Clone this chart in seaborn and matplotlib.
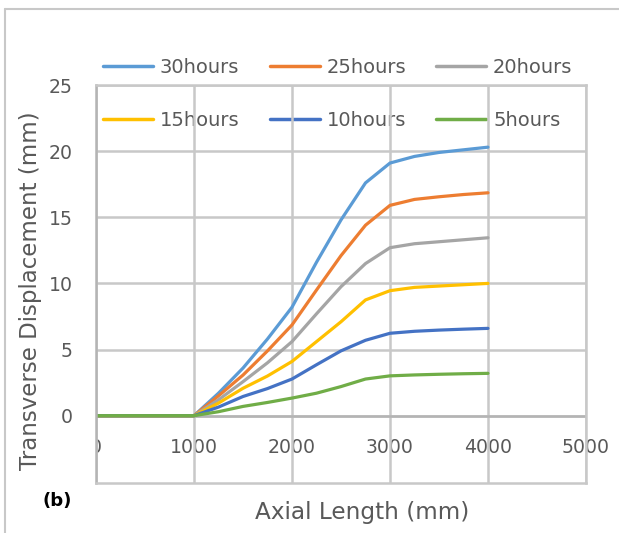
import numpy as np
import pandas as pd
import matplotlib
matplotlib.use("Agg")
import matplotlib.pyplot as plt
import seaborn as sns
from matplotlib.lines import Line2D
from matplotlib.transforms import Bbox, TransformedBbox

# ---------------- data ----------------
axial_length = [0, 1000, 1250, 1500, 1750, 2000, 2250, 2500, 2750, 3000, 3250, 3500, 3750, 4000]
disp_30h = [0, 0, 1.7, 3.6, 5.8, 8.2, 11.6, 14.8, 17.6, 19.1, 19.6, 19.9, 20.1, 20.3]
disp_25h = [0, 0, 1.5, 3.07, 4.9, 6.86, 9.5, 12.1, 14.4, 15.9, 16.35, 16.55, 16.72, 16.85]
disp_20h = [0, 0, 1.2, 2.57, 4.0, 5.6, 7.7, 9.75, 11.5, 12.7, 13.0, 13.15, 13.3, 13.45]
disp_15h = [0, 0, 0.95, 2.07, 3.0, 4.1, 5.6, 7.1, 8.75, 9.45, 9.7, 9.8, 9.9, 10.0]
disp_10h = [0, 0, 0.65, 1.45, 2.05, 2.77, 3.85, 4.9, 5.7, 6.23, 6.38, 6.47, 6.54, 6.6]
disp_5h = [0, 0, 0.3, 0.7, 1.0, 1.33, 1.7, 2.2, 2.77, 3.01, 3.08, 3.13, 3.17, 3.2]

series_labels = ["30hours", "25hours", "20hours", "15hours", "10hours", "5hours"]
series_values = [disp_30h, disp_25h, disp_20h, disp_15h, disp_10h, disp_5h]
series_colors = ["#5B9BD5", "#ED7D31", "#A5A5A5", "#FFC000", "#4472C4", "#70AD47"]

x_tick_values = [0, 1000, 2000, 3000, 4000, 5000]
x_tick_labels = ["0", "1000", "2000", "3000", "4000", "5000"]
y_tick_values = [0, 5, 10, 15, 20, 25]
y_tick_labels = ["0", "5", "10", "15", "20", "25"]

# ---------------- figure ----------------
sns.set_theme(style="white")
plt.rcParams["font.family"] = ["DejaVu Sans"]

W, H = 619, 533
fig = plt.figure(figsize=(W / 100, H / 100), dpi=100)
fig.patch.set_facecolor("white")

AX_L, AX_R, AX_T, AX_B = 96, 586, 85, 483
ax = fig.add_axes([AX_L / W, 1 - AX_B / H, (AX_R - AX_L) / W, (AX_B - AX_T) / H])
ax.patch.set_visible(False)

rows = []
for lab, vals in zip(series_labels, series_values):
    for xv, yv in zip(axial_length, vals):
        rows.append({"x": xv, "y": yv, "series": lab})
df = pd.DataFrame(rows)

sns.lineplot(data=df, x="x", y="y", hue="series", hue_order=series_labels,
             palette=series_colors, linewidth=2.3, legend=False, ax=ax,
             estimator=None, sort=False)

ax.set_xlim(0, 5000)
ax.set_ylim(-5.09, 25)
ax.set_xticks(x_tick_values)
ax.set_yticks(y_tick_values)
ax.set_yticklabels(y_tick_labels)
ax.set_xlabel("")
ax.set_ylabel("")
ax.tick_params(axis="x", length=0, labelbottom=False)
ax.tick_params(axis="y", length=0, pad=17, labelsize=13.6, labelcolor="#595959")

GRID = "#C8C8C8"
# gridlines (drawn over the legend/labels, under the series)
for xv in x_tick_values:
    ax.axvline(xv, color=GRID, linewidth=1.8, zorder=1.5)
for yv in y_tick_values:
    ax.axhline(yv, color=GRID, linewidth=1.8, zorder=1.5)

for side in ["top", "right", "bottom"]:
    ax.spines[side].set_color(GRID)
    ax.spines[side].set_linewidth(1.8)
ax.spines["left"].set_color("#B4B4B4")
ax.spines["left"].set_linewidth(1.8)
ax.axhline(0, color="#B4B4B4", linewidth=1.8, zorder=1.6)

# x tick labels placed inside the plot area (as in the reference)
clip = TransformedBbox(Bbox([[AX_L / W, 0], [1, 1]]), fig.transFigure)
for xv, lab in zip(x_tick_values, x_tick_labels):
    t = ax.text(xv, -2.44, lab, ha="center", va="center", fontsize=13.6,
                color="#595959", zorder=1)
    t.set_clip_box(clip)
    t.set_clip_on(True)

# legend (3 columns, two rows), drawn beneath the gridlines
lines = ax.get_lines()[:len(series_labels)]
order = [0, 3, 1, 4, 2, 5]
leg = fig.legend([lines[i] for i in order], [series_labels[i] for i in order],
                 ncol=3, loc="upper left",
                 bbox_to_anchor=(103 / W, 1 - 58 / H),
                 frameon=False, fontsize=14, handlelength=2.57,
                 handletextpad=0.36, columnspacing=1.54, labelspacing=1.76,
                 borderpad=0, borderaxespad=0)
for txt in leg.get_texts():
    txt.set_color("#595959")
for h in leg.legend_handles:
    h.set_linewidth(2.5)
leg.set_zorder(-1)

# axis titles
fig.text(362 / W, 1 - 512 / H, "Axial Length (mm)", ha="center", va="center",
         fontsize=16.7, color="#595959")
fig.text(31 / W, 1 - 291 / H, "Transverse Displacement (mm)", ha="center",
         va="center", rotation=90, fontsize=16.5, color="#595959")
fig.text(57 / W, 1 - 501 / H, "(b)", ha="center", va="center", fontsize=13,
         fontweight="bold", color="black")

# outer border of the chart area
fig.add_artist(Line2D([5 / W, 5 / W], [0, 1 - 9 / H], transform=fig.transFigure,
                      color=GRID, linewidth=1.5))
fig.add_artist(Line2D([5 / W, 1], [1 - 9 / H, 1 - 9 / H], transform=fig.transFigure,
                      color=GRID, linewidth=1.5))

fig.savefig("out.png", dpi=100)
